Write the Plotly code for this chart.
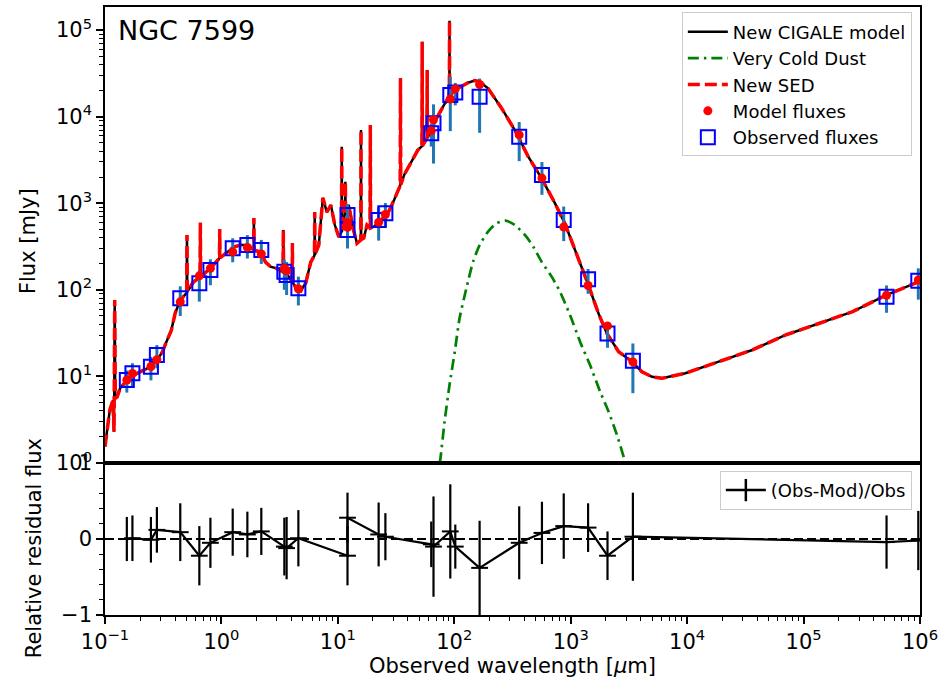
import plotly.graph_objects as go

# ---------------- data ----------------
# Observed photometry (wavelength in micron, flux in mJy)
obs_wl = [0.154, 0.172, 0.248, 0.279, 0.443, 0.646, 0.804, 1.25, 1.67, 2.20,
          3.47, 3.63, 4.58, 12.1, 12.1, 22.4, 25.6, 63.4, 66.3, 92.4,
          102, 165, 361, 566, 871, 1410, 2070, 3420, 516000, 967000]
obs_flux = [9.1, 10.9, 12.9, 17.7, 79.8, 119, 169, 301, 329, 288,
            162, 148, 104, 490, 731, 640, 764, 6410, 8370, 17800,
            19000, 17000, 5860, 2120, 640, 132, 31.4, 15.2, 83.3, 127]
obs_err = [2.6, 3.3, 3.9, 5.3, 30, 46, 56, 93, 99, 89,
           62, 61, 38, 190, 240, 270, 240, 1900, 5500, 11000,
           5500, 10500, 2800, 870, 275, 42, 10, 8.8, 29, 50]
# Model fluxes in the same bands
mod_flux = [9.1, 10.8, 13.0, 15.6, 72.6, 145, 177, 274, 309, 259,
            178, 166, 103, 598, 526, 602, 741, 6860, 9200, 16000,
            20900, 23500, 6150, 1950, 531, 112, 38.3, 14.7, 86.6, 130]
# Relative residuals (Obs-Mod)/Obs and their errors
resid = [0.0, 0.01, -0.01, 0.12, 0.09, -0.22, -0.05, 0.09, 0.06, 0.10,
         -0.10, -0.12, 0.01, -0.22, 0.28, 0.06, 0.03, -0.07, -0.10, 0.10,
         -0.10, -0.38, -0.05, 0.08, 0.17, 0.15, -0.22, 0.03, -0.04, -0.02]
resid_err = [0.29, 0.30, 0.30, 0.30, 0.38, 0.39, 0.33, 0.31, 0.30, 0.31,
             0.38, 0.41, 0.37, 0.39, 0.33, 0.42, 0.31, 0.30, 0.66, 0.62,
             0.29, 0.62, 0.48, 0.41, 0.43, 0.32, 0.32, 0.58, 0.35, 0.39]

# Best-fit SED (continuum + emission lines)
sed_wl = [0.100, 0.106, 0.110, 0.117, 0.1195, 0.1212, 0.1225, 0.127, 0.135, 0.155,
          0.171, 0.200, 0.245, 0.281, 0.310, 0.342, 0.371, 0.401, 0.443, 0.503,
          0.506, 0.509, 0.574, 0.655, 0.659, 0.663, 0.804, 0.962, 0.967, 0.972,
          1.13, 1.27, 1.46, 1.67, 1.89, 1.90, 1.91, 2.17, 2.39, 2.64,
          2.98, 3.38, 3.40, 3.42, 3.56, 4.05, 4.07, 4.09, 4.43, 4.80,
          5.30, 5.85, 6.30, 6.33, 6.36, 6.86, 7.43, 8.04, 8.71, 9.42,
          10.2, 10.75, 10.8, 10.85, 11.55, 11.6, 11.65, 12.4, 13.5, 14.6,
          15.75, 15.8, 15.85, 16.7, 17.8, 18.9, 19.0, 19.1, 20.4, 23.5,
          27.0, 30.4, 34.3, 34.5, 34.7, 37.1, 42.6, 48.6, 52.8, 53.0,
          53.2, 58.3, 58.5, 58.7, 63.4, 67.6, 82.5, 90.7, 91.0, 91.3,
          101, 115, 131, 150, 165, 195, 254, 331, 432, 562,
          733, 895, 1165, 1400, 1730, 2040, 2580, 3360, 4090, 4990,
          6080, 9660, 18700, 36300, 70300, 136000, 264000, 512000, 1020000]
sed_flux = [1.55, 2.75, 4.1, 5.3, 2.3, 76, 5.6, 5.8, 7.3, 9.1,
            10.1, 11.3, 12.9, 15.5, 19.1, 26.3, 34, 54, 76, 92,
            430, 95, 123, 140, 596, 142, 177, 232, 504, 234,
            273, 312, 329, 329, 290, 675, 287, 273, 209, 185,
            177, 162, 490, 161, 161, 124, 347, 122, 102, 97,
            120, 209, 250, 790, 255, 329, 1150, 791, 953, 560,
            407, 465, 4490, 470, 800, 1770, 850, 953, 517, 344,
            376, 7000, 380, 396, 560, 520, 8000, 517, 535, 640,
            771, 1090, 1600, 27700, 1640, 2120, 2990, 4110, 4550, 73300,
            4600, 5640, 34500, 5700, 6700, 8660, 14000, 17200, 128000, 17400,
            20300, 22600, 24600, 26100, 25300, 21200, 12600, 7000, 3440, 1940,
            997, 575, 233, 119, 53.5, 31.5, 19.3, 14.8, 11.3, 9.9,
            9.5, 10.9, 14.8, 20.2, 30.1, 41, 55.9, 87, 127]

# Very cold dust component
cold_wl = [74.6, 75.7, 82.5, 91.0, 101, 111, 127, 145, 165, 195,
           230, 275, 331, 404, 477, 562, 686, 809, 986, 1203,
           1466, 1790, 2114, 2495, 2940, 3010]
cold_flux = [1.0, 1.08, 3.0, 7.96, 19.3, 46.9, 104, 211, 329, 469,
             586, 628, 560, 430, 315, 211, 142, 95, 51.2, 25.2,
             13.5, 6.66, 3.91, 2.11, 1.03, 0.95]

x_ticks = [0.1, 1, 10, 100, 1e3, 1e4, 1e5, 1e6]
x_ticktext = ["10<sup>\u22121</sup>", "10<sup>0</sup>", "10<sup>1</sup>", "10<sup>2</sup>",
              "10<sup>3</sup>", "10<sup>4</sup>", "10<sup>5</sup>", "10<sup>6</sup>"]
y_ticks = [1, 10, 100, 1e3, 1e4, 1e5]
y_ticktext = ["10<sup>0</sup>", "10<sup>1</sup>", "10<sup>2</sup>",
              "10<sup>3</sup>", "10<sup>4</sup>", "10<sup>5</sup>"]
r_ticks = [-1, 0, 1]
r_ticktext = ["\u22121", "0", "1"]

x_minor = [m * 10.0 ** k for k in range(-1, 6) for m in range(2, 10)]
y_minor = [m * 10.0 ** k for k in range(0, 6) for m in range(2, 10)]

FONT = "DejaVu Sans"

fig = go.Figure()

fig.add_trace(go.Scatter(x=sed_wl, y=sed_flux, mode="lines", name="New CIGALE model",
                         line=dict(color="black", width=2.5), legendrank=1,
                         xaxis="x", yaxis="y", legend="legend"))
fig.add_trace(go.Scatter(x=cold_wl, y=cold_flux, mode="lines", name="Very Cold Dust",
                         line=dict(color="#008000", width=2.7, dash="11px,5px,2.5px,5px",
                                   shape="spline", smoothing=0.6),
                         legendrank=2, xaxis="x", yaxis="y", legend="legend"))
fig.add_trace(go.Scatter(x=sed_wl, y=sed_flux, mode="lines", name="New SED",
                         line=dict(color="#ff0000", width=3.5, dash="12px,5px"), legendrank=3,
                         xaxis="x", yaxis="y", legend="legend"))
fig.add_trace(go.Scatter(x=obs_wl, y=obs_flux, mode="markers", name="Observed fluxes",
                         marker=dict(symbol="square-open", size=14, color="#0000ff",
                                     line=dict(width=2, color="#0000ff")),
                         error_y=dict(type="data", array=obs_err, color="#1f77b4",
                                      thickness=3, width=0),
                         legendrank=5, xaxis="x", yaxis="y", legend="legend"))
fig.add_trace(go.Scatter(x=obs_wl, y=mod_flux, mode="markers", name="Model fluxes",
                         marker=dict(symbol="circle", size=9, color="#ff0000"),
                         legendrank=4, xaxis="x", yaxis="y", legend="legend"))

# residual panel
fig.add_trace(go.Scatter(x=obs_wl, y=resid, mode="lines+markers", showlegend=False,
                         line=dict(color="black", width=2.2),
                         marker=dict(symbol="line-ew", size=12, color="black",
                                     line=dict(width=2, color="black")),
                         error_y=dict(type="data", array=resid_err, color="black",
                                      thickness=2.2, width=0),
                         xaxis="x2", yaxis="y2"))
fig.add_trace(go.Scatter(x=[None], y=[None], mode="lines+markers", name="(Obs-Mod)/Obs",
                         line=dict(color="black", width=2.5),
                         marker=dict(symbol="line-ns", size=16, color="black",
                                     line=dict(width=2.5, color="black")),
                         xaxis="x2", yaxis="y2", legend="legend2"))

axis_common = dict(showline=True, linecolor="black", linewidth=1.5, mirror=True,
                   showgrid=False, zeroline=False, tickcolor="black",
                   tickfont=dict(family=FONT, size=21, color="black"))

fig.update_layout(
    width=941, height=689,
    template="none",
    paper_bgcolor="white", plot_bgcolor="white",
    font=dict(family=FONT, color="black"),
    margin=dict(l=105, r=21, t=7, b=74),
    xaxis=dict(type="log", range=[-1, 6], domain=[0, 1], anchor="y",
               showticklabels=False, ticks="", **axis_common),
    yaxis=dict(type="log", range=[0, 5.266], domain=[0.25, 1], anchor="x",
               tickmode="array", tickvals=y_ticks, ticktext=y_ticktext,
               ticks="outside", ticklen=7, tickwidth=1.5,
               minor=dict(tickmode="array", tickvals=y_minor, ticks="outside",
                          ticklen=4, tickwidth=1, tickcolor="black"),
               **axis_common),
    xaxis2=dict(type="log", range=[-1, 6], domain=[0, 1], anchor="y2",
                tickmode="array", tickvals=x_ticks, ticktext=x_ticktext,
                ticks="outside", ticklen=7, tickwidth=1.5,
                minor=dict(tickmode="array", tickvals=x_minor, ticks="outside",
                           ticklen=4, tickwidth=1, tickcolor="black"),
                **axis_common),
    yaxis2=dict(range=[-1, 1], domain=[0, 0.25], anchor="x2",
                tickmode="array", tickvals=r_ticks, ticktext=r_ticktext,
                ticks="outside", ticklen=7, tickwidth=1.5,
                minor=dict(dtick=0.2, ticks="outside", ticklen=4, tickwidth=1,
                           tickcolor="black"),
                **axis_common),
    legend=dict(x=0.99, y=0.991, xanchor="right", yanchor="top",
                bgcolor="rgba(255,255,255,0.8)", bordercolor="#cccccc", borderwidth=1,
                font=dict(family=FONT, size=18, color="black"), itemwidth=40,
                tracegroupgap=0),
    legend2=dict(x=0.99, y=0.237, xanchor="right", yanchor="top",
                 bgcolor="rgba(255,255,255,0.8)", bordercolor="#cccccc", borderwidth=1,
                 font=dict(family=FONT, size=18, color="black"), itemwidth=40),
    shapes=[dict(type="line", xref="x2 domain", x0=0, x1=1, yref="y2", y0=0, y1=0,
                 line=dict(color="black", width=2, dash="9px,4px"))],
    annotations=[
        dict(text="NGC 7599", xref="paper", yref="paper", x=0.0135, y=0.9613,
             xanchor="left", yanchor="middle", showarrow=False,
             font=dict(family=FONT, size=27, color="black")),
        dict(text="Flux [mJy]", xref="paper", yref="paper", x=-0.0945, y=0.615,
             xanchor="center", yanchor="middle", textangle=-90, showarrow=False,
             font=dict(family=FONT, size=21, color="black")),
        dict(text="Relative residual flux", xref="paper", yref="paper", x=-0.087, y=0.110,
             xanchor="center", yanchor="middle", textangle=-90, showarrow=False,
             font=dict(family=FONT, size=21, color="black")),
        dict(text="Observed wavelength [<i>\u03bc</i>m]", xref="paper", yref="paper",
             x=0.4994, y=-0.084, xanchor="center", yanchor="middle", showarrow=False,
             font=dict(family=FONT, size=21, color="black")),
    ],
)

fig.write_html("out.html",
               config={"displayModeBar": False},
               post_script="document.body.style.margin='0px';"
                           "document.body.style.padding='0px';"
                           "document.body.style.overflow='hidden';")
